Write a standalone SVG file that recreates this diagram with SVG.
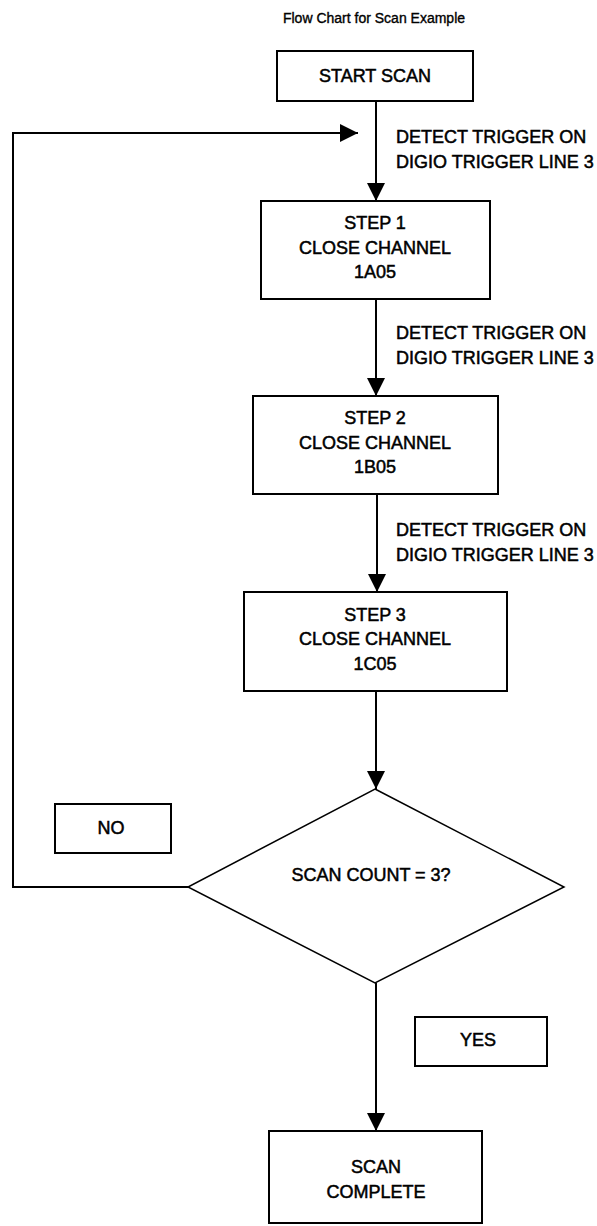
<svg xmlns="http://www.w3.org/2000/svg" width="597" height="1226" viewBox="0 0 597 1226">
<style>
  text { font-family: "Liberation Sans", Arial, sans-serif; fill: #000; stroke: #000; stroke-width: 0.5; }
  .t { font-size: 18px; text-anchor: middle; }
  .lbl { font-size: 18px; }
  .title { font-size: 14px; text-anchor: middle; stroke-width: 0.35; }
  .box { fill: #fff; stroke: #000; stroke-width: 2; }
  .dia { fill: #fff; stroke: #000; stroke-width: 1.5; }
  .conn { fill: none; stroke: #000; stroke-width: 2; }
</style>
<defs>
  <marker id="ah" markerWidth="18" markerHeight="18" viewBox="0 0 18 18" refX="18" refY="9" orient="auto" markerUnits="userSpaceOnUse">
    <path d="M0,0 L18,9 L0,18 Z" fill="#000"/>
  </marker>
</defs>
<rect width="597" height="1226" fill="#fff"/>
<text class="title" x="374" y="23">Flow Chart for Scan Example</text>

<g id="connectors">
  <line class="conn" x1="376" y1="101" x2="376" y2="201" marker-end="url(#ah)"/>
  <line class="conn" x1="376" y1="299" x2="376" y2="396" marker-end="url(#ah)"/>
  <line class="conn" x1="377" y1="494" x2="377" y2="592" marker-end="url(#ah)"/>
  <line class="conn" x1="376" y1="691" x2="376" y2="789" marker-end="url(#ah)"/>
  <line class="conn" x1="376" y1="983" x2="376" y2="1131" marker-end="url(#ah)"/>
  <polyline class="conn" points="188,887 13,887 13,133 358,133" marker-end="url(#ah)"/>
</g>

<g id="label1">
  <text class="lbl" x="396" y="143">DETECT TRIGGER ON</text>
  <text class="lbl" x="396" y="168">DIGIO TRIGGER LINE 3</text>
</g>
<g id="label2">
  <text class="lbl" x="396" y="339">DETECT TRIGGER ON</text>
  <text class="lbl" x="396" y="364">DIGIO TRIGGER LINE 3</text>
</g>
<g id="label3">
  <text class="lbl" x="396" y="536">DETECT TRIGGER ON</text>
  <text class="lbl" x="396" y="561">DIGIO TRIGGER LINE 3</text>
</g>

<g id="start">
  <rect class="box" x="277" y="51" width="196" height="50"/>
  <text class="t" x="375" y="82">START SCAN</text>
</g>
<g id="step1">
  <rect class="box" x="261" y="201" width="229" height="98"/>
  <text class="t" x="375" y="229">STEP 1</text>
  <text class="t" x="375" y="254">CLOSE CHANNEL</text>
  <text class="t" x="375" y="278">1A05</text>
</g>
<g id="step2">
  <rect class="box" x="253" y="396" width="245" height="98"/>
  <text class="t" x="375" y="424">STEP 2</text>
  <text class="t" x="375" y="449">CLOSE CHANNEL</text>
  <text class="t" x="375" y="473">1B05</text>
</g>
<g id="step3">
  <rect class="box" x="244" y="592" width="263" height="99"/>
  <text class="t" x="375" y="621">STEP 3</text>
  <text class="t" x="375" y="645">CLOSE CHANNEL</text>
  <text class="t" x="375" y="670">1C05</text>
</g>
<g id="decision">
  <polygon class="dia" points="375,789 564,887 375,983 188,887"/>
  <text class="t" x="371" y="881">SCAN COUNT = 3?</text>
</g>
<g id="no">
  <rect class="box" x="55" y="804" width="116" height="49"/>
  <text class="t" x="111" y="834">NO</text>
</g>
<g id="yes">
  <rect class="box" x="415" y="1017" width="132" height="49"/>
  <text class="t" x="478" y="1046">YES</text>
</g>
<g id="complete">
  <rect class="box" x="269" y="1131" width="213" height="92"/>
  <text class="t" x="376" y="1173">SCAN</text>
  <text class="t" x="376" y="1198">COMPLETE</text>
</g>
</svg>
